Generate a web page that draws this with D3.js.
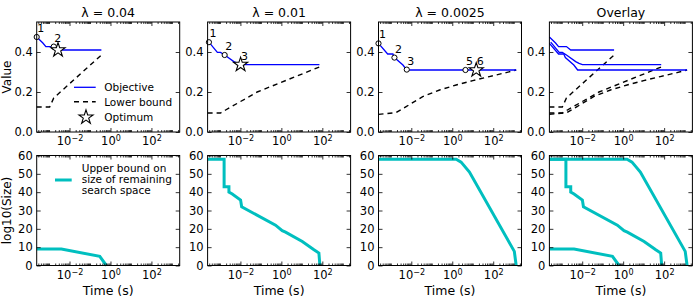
<!DOCTYPE html>
<html>
<head>
<meta charset="utf-8">
<script src="https://cdn.jsdelivr.net/npm/d3@7"></script>
<style>
  body { margin: 0; background: #fff; }
  text { font-family: "DejaVu Sans", sans-serif; }
</style>
</head>
<body>
<div id="chart"></div>
<script>
// Data (time in seconds)
const titles = ["λ = 0.04", "λ = 0.01", "λ = 0.0025", "Overlay"];
const xMajor = [1e-2, 1, 1e2];
const yTopTicks = [0, 0.2, 0.4];
const yBotTicks = [0, 10, 20, 30, 40, 50, 60];

// lambda = 0.04
const objA = [[2.5e-4, .475], [5e-4, .445], [7e-4, .427], [1.7e-3, .427], [2.75e-3, .41], [0.36, .41]];
const lowA = [[2.5e-4, .125], [1.07e-3, .125], [1.7e-3, .17], [0.36, .385]];
const ptsA = [[2.5e-4, .475, "1"], [1.7e-3, .427, "2"]];
const optA = [2.75e-3, .41, ""];
const sizeA = [[2.5e-4, 9], [4e-3, 9], [0.3, 5], [0.63, 0]];

// lambda = 0.01
const objB = [[2.9e-4, .449], [7.5e-4, .398], [1.07e-3, .398], [1.7e-3, .385], [4.8e-3, .352], [7e-3, .343], [0.0102, .337], [72, .337]];
const lowB = [[2.5e-4, .095], [1.07e-3, .095], [1.9e-3, .11], [0.066, .2], [72, .325]];
const ptsB = [[2.9e-4, .449, "1"], [1.7e-3, .385, "2"]];
const optB = [0.0102, .337, "3"];
const sizeB = [[2.5e-4, 58], [1.6e-3, 58], [1.6e-3, 43], [2.75e-3, 43], [2.75e-3, 40], [4e-3, 39], [0.0102, 35.7], [0.0115, 32],
  [0.52, 22], [1.1, 19], [1.6, 18.2], [10.5, 13.1], [39, 8.6], [68, 6.8], [76, 0]];

// lambda = 0.0025
const objC = [[2.5e-4, .443], [7e-4, .39], [1.26e-3, .39], [1.5e-3, .372], [3.9e-3, .335], [6e-3, .31], [1320, .31]];
const lowC = [[2.5e-4, .088], [1.8e-3, .097], [5.6e-3, .127], [0.036, .177], [0.24, .21], [1.55, .235], [10, .257], [65, .277], [427, .297], [1320, .31]];
const ptsC = [[2.5e-4, .443, "1"], [1.5e-3, .372, "2"], [6e-3, .312, "3"], [4.4, .31, "5"]];
const optC = [14.8, .31, "6"];
const sizeC = [[2.5e-4, 58], [1.55, 58], [2.7, 56.4], [6.9, 51], [1070, 7.7], [1320, 0]];

// Layout
const pw = 143, ph = 110;
const lefts = [36.7, 207.6, 378.5, 549.4];
const topY = 22, botY = 155.5;

const svg = d3.select("#chart").append("svg")
    .attr("width", 698)
    .attr("height", 300);

const x = d3.scaleLog().domain([2.5e-4, 2400]).range([0, pw]);
const yTop = d3.scaleLinear().domain([0, 0.55]).range([ph, 0]);
const yBot = d3.scaleLinear().domain([0, 60]).range([ph, 0]);
const xMinor = x.ticks().filter(v => !xMajor.some(m => Math.abs(v - m) / m < 1e-6));

const blue = "#0000ff", cyan = "#00bfbf";

function styleAxis(g) {
  g.select(".domain").remove();
  g.selectAll("line").attr("stroke", "#000").attr("stroke-width", 0.8);
  g.selectAll("text").attr("font-size", 11.5).attr("fill", "#000").attr("font-family", "DejaVu Sans, sans-serif");
}

function drawFrame(g, y, yTicks, yFmt) {
  // x axis, bottom with labels
  const xb = g.append("g").attr("transform", `translate(0,${ph})`)
      .call(d3.axisBottom(x).tickValues(xMajor).tickSize(-4).tickPadding(5));
  styleAxis(xb);
  xb.selectAll(".tick text").each(function(d) {
    const t = d3.select(this);
    const e = Math.round(Math.log10(d));
    t.text(null);
    t.append("tspan").text("10");
    t.append("tspan").attr("dy", "-0.5em").attr("font-size", "0.7em")
      .text(e < 0 ? "\u2212" + (-e) : e);
  });
  g.append("g").attr("transform", `translate(0,${ph})`)
      .call(d3.axisBottom(x).tickValues(xMinor).tickSize(-2).tickFormat("")).call(styleAxis);
  // top
  g.append("g").call(d3.axisTop(x).tickValues(xMajor).tickSize(-4).tickFormat("")).call(styleAxis);
  g.append("g").call(d3.axisTop(x).tickValues(xMinor).tickSize(-2).tickFormat("")).call(styleAxis);
  // y axes
  g.append("g").call(d3.axisLeft(y).tickValues(yTicks).tickSize(-4).tickPadding(4).tickFormat(yFmt)).call(styleAxis);
  g.append("g").attr("transform", `translate(${pw},0)`)
      .call(d3.axisRight(y).tickValues(yTicks).tickSize(-4).tickFormat("")).call(styleAxis);

  g.append("rect")
      .attr("width", pw).attr("height", ph)
      .attr("fill", "none").attr("stroke", "#000").attr("stroke-width", 1);
}

const star = d3.symbol().type(d3.symbolStar).size(62);

function drawTop(g, objs, lows, pts, opts) {
  const line = d3.line().x(d => x(d[0])).y(d => yTop(d[1]));
  lows.forEach(d => g.append("path").datum(d)
      .attr("fill", "none").attr("stroke", "#000").attr("stroke-width", 1.4)
      .attr("stroke-dasharray", "5,4").attr("d", line));
  objs.forEach(d => g.append("path").datum(d)
      .attr("fill", "none").attr("stroke", blue).attr("stroke-width", 1.3).attr("d", line));

  pts.forEach(p => {
    g.append("circle")
        .attr("cx", x(p[0])).attr("cy", yTop(p[1])).attr("r", 2.6)
        .attr("fill", "#fff").attr("stroke", "#000").attr("stroke-width", 1);
  });
  opts.forEach(p => {
    g.append("path").attr("d", star)
        .attr("transform", `translate(${x(p[0])},${yTop(p[1])})`)
        .attr("fill", "#fff").attr("stroke", "#000").attr("stroke-width", 1.1);
  });
  pts.concat(opts).forEach(p => {
    if (!p[2]) return;
    g.append("text")
        .attr("x", x(p[0]) + 4).attr("y", yTop(p[1]) - 5)
        .attr("text-anchor", "middle").attr("font-size", 11)
        .text(p[2]);
  });
}

function drawBot(g, sizes) {
  const line = d3.line().x(d => x(d[0])).y(d => yBot(d[1]));
  sizes.forEach(d => g.append("path").datum(d)
      .attr("fill", "none").attr("stroke", cyan).attr("stroke-width", 3)
      .attr("stroke-linejoin", "miter").attr("d", line));
}

const topSets = [
  [[objA], [lowA], ptsA, [optA]],
  [[objB], [lowB], ptsB, [optB]],
  [[objC], [lowC], ptsC, [optC]],
  [[objA, objB, objC], [lowA, lowB, lowC], [], []]
];
const botSets = [[sizeA], [sizeB], [sizeC], [sizeA, sizeB, sizeC]];

lefts.forEach((lx, i) => {
  const gt = svg.append("g").attr("transform", `translate(${lx},${topY})`);
  drawTop(gt, ...topSets[i]);
  drawFrame(gt, yTop, yTopTicks, d3.format(".1f"));
  gt.append("text")
      .attr("x", pw / 2).attr("y", -5)
      .attr("text-anchor", "middle").attr("font-size", 12.5)
      .text(titles[i]);

  const gb = svg.append("g").attr("transform", `translate(${lx},${botY})`);
  drawBot(gb, botSets[i]);
  drawFrame(gb, yBot, yBotTicks, d3.format("d"));
  gb.append("text")
      .attr("x", pw / 2).attr("y", ph + 29)
      .attr("text-anchor", "middle").attr("font-size", 12.5)
      .text("Time (s)");
});

// Axis titles
svg.append("text")
    .attr("transform", `translate(10.5,${topY + ph / 2}) rotate(-90)`)
    .attr("text-anchor", "middle").attr("font-size", 12)
    .text("Value");
svg.append("text")
    .attr("transform", `translate(10.5,${botY + ph / 2}) rotate(-90)`)
    .attr("text-anchor", "middle").attr("font-size", 12)
    .text("log10(Size)");

// Legend, top-left panel
const lg = svg.append("g").attr("transform", `translate(${lefts[0]},${topY})`);
const legY = [65.3, 79.7, 95.3];
lg.append("line").attr("x1", 37.3).attr("x2", 59).attr("y1", legY[0]).attr("y2", legY[0])
    .attr("stroke", blue).attr("stroke-width", 1.3);
lg.append("line").attr("x1", 37.3).attr("x2", 59).attr("y1", legY[1]).attr("y2", legY[1])
    .attr("stroke", "#000").attr("stroke-width", 1.4).attr("stroke-dasharray", "5,4");
lg.append("path").attr("d", star).attr("transform", `translate(49.3,${legY[2]})`)
    .attr("fill", "#fff").attr("stroke", "#000").attr("stroke-width", 1.1);
["Objective", "Lower bound", "Optimum"].forEach((s, i) => {
  lg.append("text").attr("x", 67.5).attr("y", legY[i] + 3.8)
      .attr("font-size", 10.5).text(s);
});

// Legend, bottom-left panel
const lb = svg.append("g").attr("transform", `translate(${lefts[0]},${botY})`);
lb.append("line").attr("x1", 18.3).attr("x2", 35).attr("y1", 24.5).attr("y2", 24.5)
    .attr("stroke", cyan).attr("stroke-width", 3);
["Upper bound on", "size of remaining", "search space"].forEach((s, i) => {
  lb.append("text").attr("x", 45).attr("y", 16.5 + i * 11.2)
      .attr("font-size", 10.5).text(s);
});
</script>
</body>
</html>
